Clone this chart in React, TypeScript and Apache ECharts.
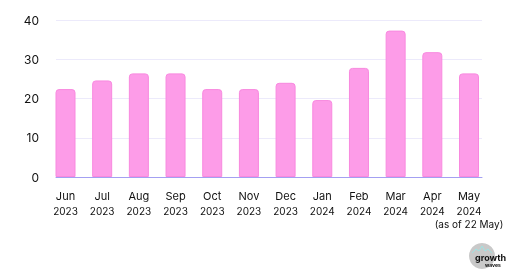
import React, { useEffect, useRef } from "react";
import * as echarts from "echarts";

const months = ["Jun", "Jul", "Aug", "Sep", "Oct", "Nov", "Dec", "Jan", "Feb", "Mar", "Apr", "May"];
const years = ["2023", "2023", "2023", "2023", "2023", "2023", "2023", "2024", "2024", "2024", "2024", "2024"];
const notes = ["", "", "", "", "", "", "", "", "", "", "", "(as of 22 May)"];
const values = [22.4, 24.6, 26.4, 26.4, 22.4, 22.4, 24.0, 19.6, 27.8, 37.3, 31.8, 26.4];
const yTicks = [0, 10, 20, 30, 40];

const FONT = "Inter, 'Open Sans', sans-serif";

export default function App() {
  const ref = useRef<HTMLDivElement>(null);
  useEffect(() => {
    if (!ref.current) return;
    const chart = echarts.init(ref.current, null, { renderer: "svg" });
    const cats = months.map((m, i) => `${m}|${years[i]}|${notes[i]}`);
    chart.setOption({
      animation: false,
      textStyle: { fontFamily: FONT },
      grid: [
        { left: 56, right: 38, top: 20, bottom: 95 },
        { left: 65.5, right: 51, top: 20, bottom: 95 },
      ],
      xAxis: [
        {
          gridIndex: 0,
          type: "category",
          data: cats,
          axisLine: { show: true, lineStyle: { color: "#A3A0F2", width: 1 } },
          axisTick: { show: false },
          axisLabel: { show: false },
          splitLine: { show: false },
        },
        {
          gridIndex: 1,
          type: "category",
          boundaryGap: false,
          data: cats,
          axisLine: { show: false },
          axisTick: { show: false },
          axisLabel: {
            margin: 11,
            interval: 0,
            formatter: (v: string) => {
              const [m, y, n] = v.split("|");
              return n ? `{m|${m}}\n{y|${y}}\n{n|${n}}` : `{m|${m}}\n{y|${y}}`;
            },
            rich: {
              m: { fontSize: 11, lineHeight: 16, color: "#111", fontFamily: FONT },
              y: { fontSize: 10, lineHeight: 14, color: "#111", fontFamily: FONT },
              n: { fontSize: 10, lineHeight: 12, color: "#111", fontFamily: FONT },
            },
          },
        },
      ],
      yAxis: [
        {
          gridIndex: 0,
          type: "value",
          min: yTicks[0],
          max: yTicks[yTicks.length - 1],
          interval: 10,
          axisLine: { show: false },
          axisTick: { show: false },
          axisLabel: { margin: 17, fontSize: 12, color: "#111", fontFamily: FONT },
          splitLine: { show: true, lineStyle: { color: "#ECEAFB", width: 1 } },
        },
        {
          gridIndex: 1,
          type: "value",
          min: yTicks[0],
          max: yTicks[yTicks.length - 1],
          interval: 10,
          show: false,
          splitLine: { show: false },
        },
      ],
      series: [
        {
          type: "bar",
          xAxisIndex: 1,
          yAxisIndex: 1,
          data: values,
          barWidth: 20,
          itemStyle: {
            color: "#FD9CE8",
            borderColor: "#F889DF",
            borderWidth: 1,
            borderRadius: [3, 3, 0, 0],
          },
        },
      ],
      graphic: [
        {
          type: "group",
          left: 469,
          top: 243,
          children: [
            { type: "circle", shape: { cx: 13, cy: 13, r: 13 }, style: { fill: "#C9C9C9" } },
            {
              type: "polyline",
              shape: { points: [[3, 10], [7, 6], [10, 8], [13, 3], [16, 8], [19, 6], [23, 10]] },
              style: { stroke: "#9FE3E3", lineWidth: 1, fill: null },
            },
            {
              type: "text",
              x: 6,
              y: 10,
              style: { text: "growth", fontSize: 9, fontWeight: "bold", fill: "#111", fontFamily: FONT },
            },
            {
              type: "text",
              x: 16,
              y: 19,
              style: { text: "waves", fontSize: 5, fontWeight: "bold", fill: "#111", fontFamily: FONT },
            },
          ],
        },
      ],
    });
    return () => chart.dispose();
  }, []);
  return <div ref={ref} style={{ position: "fixed", left: 0, top: 0, width: 520, height: 272 }} />;
}
